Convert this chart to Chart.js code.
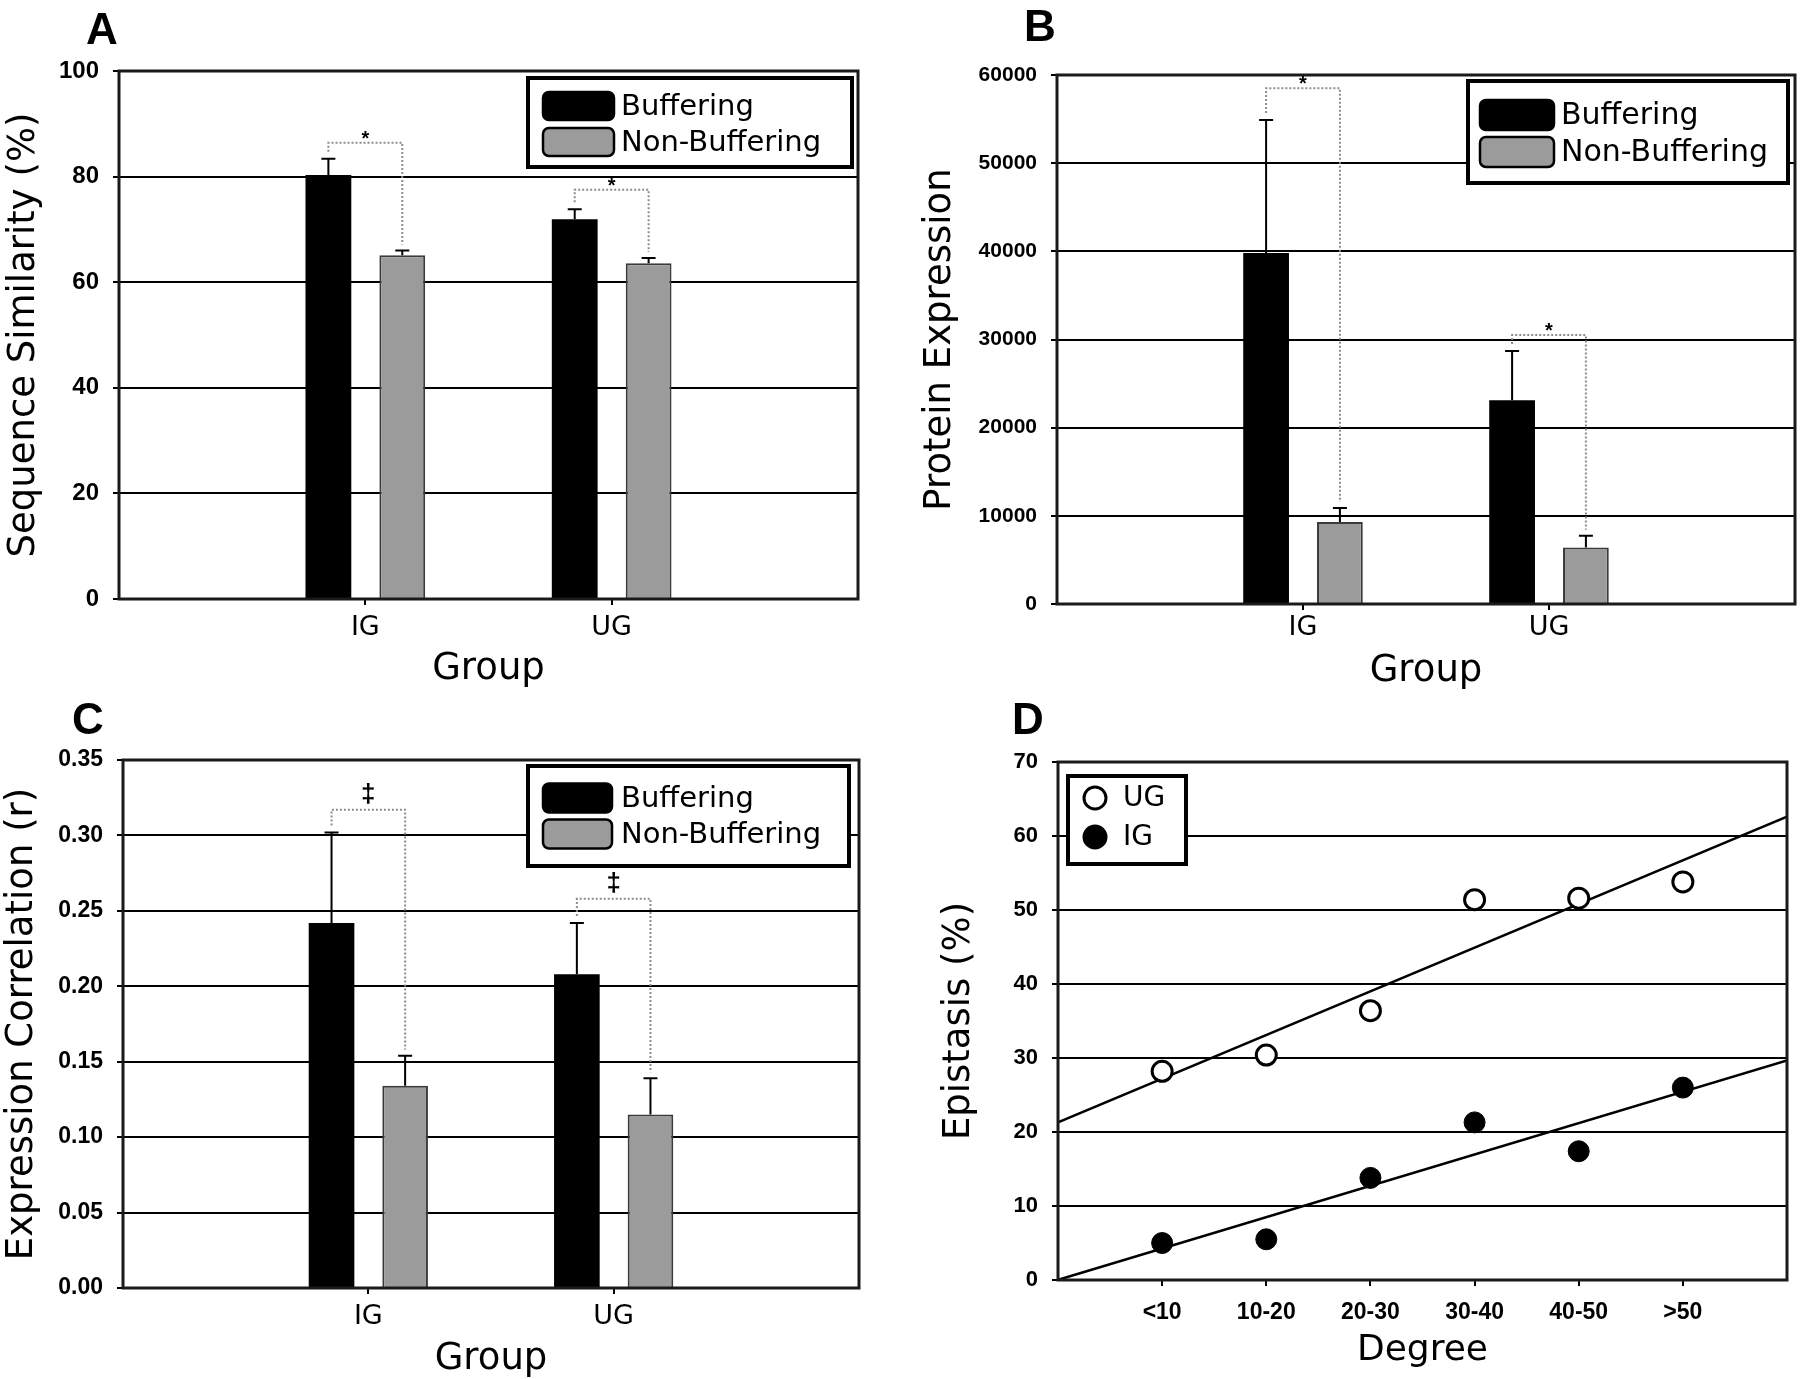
<!DOCTYPE html>
<html>
<head>
<meta charset="utf-8">
<script src="https://cdn.jsdelivr.net/npm/chart.js@4.4.1/dist/chart.umd.min.js"></script>
<style>
    html, body { margin: 0; padding: 0; background: #fff; overflow: hidden; }
    #page { position: relative; width: 1800px; height: 1379px; }
    canvas { position: absolute; }
    .panel-letter {
        position: absolute;
        font: bold 44px 'Liberation Sans', Arial, sans-serif;
        line-height: 1;
        color: #000;
    }
</style>
</head>
<body>
<div id="page">
    <canvas id="chart-a" width="900" height="700" style="left:0;top:0"></canvas>
    <canvas id="chart-b" width="900" height="700" style="left:900px;top:0"></canvas>
    <canvas id="chart-c" width="900" height="700" style="left:0;top:690px"></canvas>
    <canvas id="chart-d" width="900" height="700" style="left:900px;top:690px"></canvas>
    <div class="panel-letter" style="left:86px;top:7px">A</div>
    <div class="panel-letter" style="left:1024px;top:4px">B</div>
    <div class="panel-letter" style="left:72px;top:697px">C</div>
    <div class="panel-letter" style="left:1012px;top:697px">D</div>
</div>
<script>
"use strict";

// ---- données ----
const groups = ['IG', 'UG'];
const seriesNames = ['Buffering', 'Non-Buffering'];

// A : similarité de séquence (%)
const simBuffering = [80.3, 71.9];
const simBufferingErr = [3.1, 1.9];
const simNonBuffering = [65.1, 63.6];
const simNonBufferingErr = [0.9, 1.0];
const simSignif = [86.4, 77.5];

// B : expression protéique
const protBuffering = [39800, 23100];
const protBufferingErr = [15100, 5600];
const protNonBuffering = [9300, 6400];
const protNonBufferingErr = [1600, 1350];
const protSignif = [58500, 30500];

// C : corrélation d'expression (r)
const corrBuffering = [0.242, 0.208];
const corrBufferingErr = [0.060, 0.034];
const corrNonBuffering = [0.134, 0.115];
const corrNonBufferingErr = [0.020, 0.024];
const corrSignif = [0.317, 0.258];

// D : épistasie (%) selon le degré
const degreeLabels = ['<10', '10-20', '20-30', '30-40', '40-50', '>50'];
const epistasisUG = [28.2, 30.4, 36.4, 51.4, 51.6, 53.8];
const epistasisIG = [5.0, 5.5, 13.8, 21.3, 17.4, 26.0];

Chart.defaults.font.family = "'DejaVu Sans', Verdana, sans-serif";
Chart.defaults.color = '#000';
Chart.defaults.animation = false;

const BLACK = '#000000';
const GREY = '#9b9b9b';
const TICK_FONT = "'Liberation Sans', Arial, sans-serif";
const HIDDEN = 'rgba(0,0,0,0)';

// les groupes sont placés au tiers et aux deux tiers de l'axe
const barLabels = ['', ...groups, ''];
const pad = arr => [null, ...arr, null];

/**
 * Cadre noir autour de la zone du graphe
 */
const frame = {
    id: 'frame',
    afterDatasetsDraw(chart) {
        const {ctx, chartArea: {left, top, right, bottom}} = chart;
        ctx.save();
        ctx.strokeStyle = '#1a1a1a';
        ctx.lineWidth = 3;
        ctx.strokeRect(left, top, right - left, bottom - top);
        ctx.restore();
    }
};

/**
 * Barres d'erreur (vers le haut seulement)
 */
const errorBars = {
    id: 'errorBars',
    afterDatasetsDraw(chart) {
        const {ctx} = chart;
        const yScale = chart.scales.y;
        ctx.save();
        ctx.strokeStyle = BLACK;
        ctx.lineWidth = 2;
        chart.data.datasets.forEach((dataset, di) => {
            if (!dataset.errors) return;
            chart.getDatasetMeta(di).data.forEach((bar, i) => {
                const value = dataset.data[i];
                const err = dataset.errors[i];
                if (value == null || err == null) return;
                const yTop = yScale.getPixelForValue(value + err);
                ctx.beginPath();
                ctx.moveTo(bar.x, bar.y);
                ctx.lineTo(bar.x, yTop);
                ctx.moveTo(bar.x - 7, yTop);
                ctx.lineTo(bar.x + 7, yTop);
                ctx.stroke();
            });
        });
        ctx.restore();
    }
};

/**
 * Crochets de significativité entre les deux barres d'un groupe
 */
const significance = {
    id: 'significance',
    afterDatasetsDraw(chart, args, options) {
        if (!options.levels) return;
        const {ctx} = chart;
        const yScale = chart.scales.y;
        const [d0, d1] = chart.data.datasets;
        const m0 = chart.getDatasetMeta(0);
        const m1 = chart.getDatasetMeta(1);
        ctx.save();
        options.levels.forEach((level, k) => {
            const i = chart.data.labels.indexOf(groups[k]);
            const x0 = m0.data[i].x;
            const x1 = m1.data[i].x;
            const yLine = yScale.getPixelForValue(level);
            const y0 = yScale.getPixelForValue(d0.data[i] + d0.errors[i]) - 7;
            const y1 = yScale.getPixelForValue(d1.data[i] + d1.errors[i]) - 6;

            ctx.strokeStyle = '#8c8c8c';
            ctx.lineWidth = 2;
            ctx.setLineDash([2, 2]);
            ctx.beginPath();
            ctx.moveTo(x0, y0);
            ctx.lineTo(x0, yLine);
            ctx.lineTo(x1, yLine);
            ctx.lineTo(x1, y1);
            ctx.stroke();

            ctx.setLineDash([]);
            ctx.fillStyle = BLACK;
            ctx.font = options.font;
            ctx.textAlign = 'center';
            ctx.textBaseline = 'alphabetic';
            ctx.fillText(options.symbol, (x0 + x1) / 2, yLine + options.dy);
        });
        ctx.restore();
    }
};

/**
 * Légende encadrée dessinée dans la zone du graphe
 */
const boxLegend = {
    id: 'boxLegend',
    afterDraw(chart, args, o) {
        if (!o.box) return;
        const {ctx} = chart;
        const [bx, by, bw, bh] = o.box;
        ctx.save();
        ctx.fillStyle = '#fff';
        ctx.fillRect(bx, by, bw, bh);
        ctx.strokeStyle = BLACK;
        ctx.lineWidth = 4;
        ctx.strokeRect(bx, by, bw, bh);

        ctx.font = o.font;
        ctx.textAlign = 'left';
        ctx.textBaseline = 'middle';
        o.datasets.forEach((di, row) => {
            const ds = chart.data.datasets[di];
            const cy = o.rows[row];
            if (o.marker) {
                ctx.beginPath();
                ctx.arc(o.markerX, cy, 11, 0, Math.PI * 2);
                ctx.fillStyle = ds.pointBackgroundColor;
                ctx.fill();
                ctx.lineWidth = 3;
                ctx.strokeStyle = BLACK;
                ctx.stroke();
            } else {
                const [sx, sw, sh] = o.swatch;
                ctx.beginPath();
                ctx.roundRect(sx, cy - sh / 2, sw, sh, 6);
                ctx.fillStyle = ds.backgroundColor;
                ctx.fill();
                ctx.lineWidth = 2.5;
                ctx.strokeStyle = BLACK;
                ctx.stroke();
            }
            ctx.fillStyle = BLACK;
            ctx.fillText(ds.label, o.textX, cy + 1);
        });
        ctx.restore();
    }
};

/**
 * Options communes des graphes en barres
 */
function barOptions(p) {
    return {
        responsive: false,
        layout: {padding: {top: p.top, right: p.right, left: 0, bottom: 0}},
        plugins: {
            legend: {display: false},
            tooltip: {enabled: false},
            significance: p.significance,
            boxLegend: p.legend
        },
        scales: {
            x: {
                offset: false,
                grid: {
                    offset: false,
                    drawOnChartArea: false,
                    tickLength: 6,
                    lineWidth: 2,
                    color: c => (c.index === 0 || c.index === barLabels.length - 1) ? HIDDEN : BLACK
                },
                border: {display: false},
                ticks: {padding: p.xTickPad, autoSkip: false, maxRotation: 0, font: {size: 27}},
                title: {display: true, text: 'Group', font: {size: 37}, padding: {top: 0, bottom: p.xTitlePad}},
                afterFit: s => { s.height = p.xHeight; }
            },
            y: {
                min: 0,
                max: p.max,
                grid: {color: BLACK, lineWidth: 2, tickLength: 6},
                border: {display: false},
                ticks: {
                    stepSize: p.step,
                    padding: 14,
                    font: {family: TICK_FONT, weight: 'bold', size: p.yTickSize},
                    callback: p.format
                },
                title: {display: true, text: p.yTitle, font: {size: 37}, padding: {top: p.yTitlePad, bottom: 0}},
                afterFit: s => { s.width = p.yWidth; }
            }
        }
    };
}

function barDatasets(buffering, bufferingErr, nonBuffering, nonBufferingErr) {
    return [{
        label: seriesNames[0],
        data: pad(buffering),
        errors: pad(bufferingErr),
        backgroundColor: BLACK,
        borderWidth: 0,
        categoryPercentage: 0.6,
        barPercentage: 0.62
    }, {
        label: seriesNames[1],
        data: pad(nonBuffering),
        errors: pad(nonBufferingErr),
        backgroundColor: GREY,
        borderColor: '#3a3a3a',
        borderWidth: 2,
        categoryPercentage: 0.6,
        barPercentage: 0.62
    }];
}

/**
 * Graph A : similarité de séquence
 */
const similarite = (function () {
    const ctx = document.getElementById('chart-a');

    function init() {
        new Chart(ctx, {
            type: 'bar',
            data: {
                labels: barLabels,
                datasets: barDatasets(simBuffering, simBufferingErr, simNonBuffering, simNonBufferingErr)
            },
            options: barOptions({
                top: 71, right: 42, yWidth: 119, xHeight: 101,
                xTickPad: 7, xTitlePad: 8, yTitlePad: 2,
                max: 100, step: 20, yTickSize: 24,
                format: v => String(v),
                yTitle: 'Sequence Similarity (%)',
                significance: {levels: simSignif, symbol: '*', font: "bold 20px 'Liberation Sans'", dy: 2},
                legend: {box: [528, 78, 324, 89], swatch: [543, 71, 28], rows: [106, 142], textX: 621,
                    datasets: [0, 1], font: "29px 'DejaVu Sans'"}
            }),
            plugins: [frame, errorBars, significance, boxLegend]
        });
    }

    return {init};
})();

/**
 * Graph B : expression protéique
 */
const expression = (function () {
    const ctx = document.getElementById('chart-b');

    function init() {
        new Chart(ctx, {
            type: 'bar',
            data: {
                labels: barLabels,
                datasets: barDatasets(protBuffering, protBufferingErr, protNonBuffering, protNonBufferingErr)
            },
            options: barOptions({
                top: 75, right: 5, yWidth: 157, xHeight: 96,
                xTickPad: 2, xTitlePad: 6, yTitlePad: 18,
                max: 60000, step: 10000, yTickSize: 21,
                format: v => String(v),
                yTitle: 'Protein Expression',
                significance: {levels: protSignif, symbol: '*', font: "bold 20px 'Liberation Sans'", dy: 2},
                legend: {box: [568, 81, 320, 102], swatch: [580, 74, 30], rows: [115, 152], textX: 661,
                    datasets: [0, 1], font: "30px 'DejaVu Sans'"}
            }),
            plugins: [frame, errorBars, significance, boxLegend]
        });
    }

    return {init};
})();

/**
 * Graph C : corrélation d'expression
 */
const correlation = (function () {
    const ctx = document.getElementById('chart-c');

    function init() {
        new Chart(ctx, {
            type: 'bar',
            data: {
                labels: barLabels,
                datasets: barDatasets(corrBuffering, corrBufferingErr, corrNonBuffering, corrNonBufferingErr)
            },
            options: barOptions({
                top: 70, right: 41, yWidth: 123, xHeight: 102,
                xTickPad: 7, xTitlePad: 8, yTitlePad: 0,
                max: 0.35, step: 0.05, yTickSize: 23,
                format: v => v.toFixed(2),
                yTitle: 'Expression Correlation (r)',
                significance: {levels: corrSignif, symbol: '\u2021', font: "bold 26px 'Liberation Sans'", dy: -8},
                legend: {box: [528, 76, 321, 100], swatch: [543, 69, 29], rows: [108, 144], textX: 621,
                    datasets: [0, 1], font: "29px 'DejaVu Sans'"}
            }),
            plugins: [frame, errorBars, significance, boxLegend]
        });
    }

    return {init};
})();

/**
 * Droite des moindres carrés sur les positions 1..n
 */
function regression(values, xMin, xMax) {
    const n = values.length;
    const xs = values.map((v, i) => i + 1);
    const mx = xs.reduce((a, b) => a + b, 0) / n;
    const my = values.reduce((a, b) => a + b, 0) / n;
    let sxy = 0, sxx = 0;
    for (let i = 0; i < n; i++) {
        sxy += (xs[i] - mx) * (values[i] - my);
        sxx += (xs[i] - mx) * (xs[i] - mx);
    }
    const slope = sxy / sxx;
    const b = my - slope * mx;
    return [{x: xMin, y: b + slope * xMin}, {x: xMax, y: b + slope * xMax}];
}

/**
 * Graph D : épistasie selon le degré
 */
const epistasie = (function () {
    const ctx = document.getElementById('chart-d');
    const xMax = degreeLabels.length + 1;

    function init() {
        const points = values => values.map((v, i) => ({x: i + 1, y: v}));

        new Chart(ctx, {
            type: 'scatter',
            data: {
                datasets: [{
                    label: 'UG',
                    data: points(epistasisUG),
                    pointRadius: 10,
                    pointBackgroundColor: '#fff',
                    pointBorderColor: BLACK,
                    pointBorderWidth: 3,
                    order: 1
                }, {
                    label: 'IG',
                    data: points(epistasisIG),
                    pointRadius: 10.5,
                    pointBackgroundColor: BLACK,
                    pointBorderColor: BLACK,
                    pointBorderWidth: 1,
                    order: 1
                }, {
                    type: 'line',
                    label: 'UG fit',
                    data: regression(epistasisUG, 0, xMax),
                    borderColor: BLACK,
                    borderWidth: 2.5,
                    pointRadius: 0,
                    order: 2
                }, {
                    type: 'line',
                    label: 'IG fit',
                    data: regression(epistasisIG, 0, xMax),
                    borderColor: BLACK,
                    borderWidth: 2.5,
                    pointRadius: 0,
                    order: 2
                }]
            },
            options: {
                responsive: false,
                layout: {padding: {top: 72, right: 5, left: 0, bottom: 0}},
                plugins: {
                    legend: {display: false},
                    tooltip: {enabled: false},
                    boxLegend: {box: [168, 86, 118, 88], marker: true, markerX: 195, rows: [108, 147],
                        textX: 223, datasets: [0, 1], font: "28px 'DejaVu Sans'"}
                },
                scales: {
                    x: {
                        type: 'linear',
                        min: 0,
                        max: xMax,
                        grid: {
                            drawOnChartArea: false,
                            tickLength: 6,
                            lineWidth: 2,
                            color: c => (c.index === 0 || c.index === xMax) ? HIDDEN : BLACK
                        },
                        border: {display: false},
                        ticks: {
                            stepSize: 1,
                            padding: 13,
                            autoSkip: false,
                            maxRotation: 0,
                            font: {family: TICK_FONT, weight: 'bold', size: 23},
                            callback: v => degreeLabels[v - 1] || ''
                        },
                        title: {display: true, text: 'Degree', font: {size: 36}, padding: {top: 0, bottom: 18}},
                        afterFit: s => { s.height = 110; }
                    },
                    y: {
                        min: 0,
                        max: 70,
                        grid: {color: BLACK, lineWidth: 2, tickLength: 6},
                        border: {display: false},
                        ticks: {
                            stepSize: 10,
                            padding: 14,
                            font: {family: TICK_FONT, weight: 'bold', size: 22}
                        },
                        title: {display: true, text: 'Epistasis (%)', font: {size: 37}, padding: {top: 37, bottom: 0}},
                        afterFit: s => { s.width = 158; }
                    }
                }
            },
            plugins: [frame, boxLegend]
        });
    }

    return {init};
})();

similarite.init();
expression.init();
correlation.init();
epistasie.init();
</script>
</body>
</html>
